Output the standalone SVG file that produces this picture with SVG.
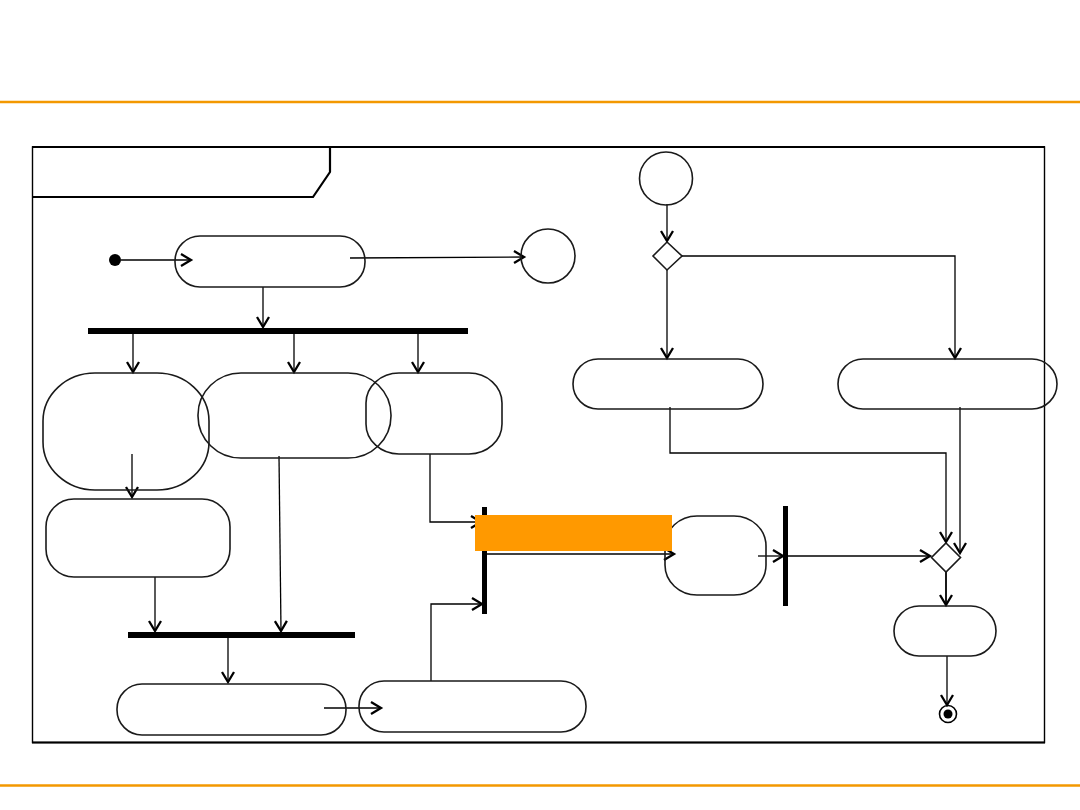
<svg xmlns="http://www.w3.org/2000/svg" width="1080" height="810" viewBox="0 0 1080 810">
<style>
.act{fill:none;stroke:#1a1a1a;stroke-width:1.6}
.bar{fill:#000}
.ln{fill:none;stroke:#000;stroke-width:1.3}
.frame{fill:none;stroke:#000;stroke-width:1.4}
.thick{fill:none;stroke:#000;stroke-width:2.2}
.rule{stroke:#F39800;stroke-width:2.5}
</style>
<defs>
<marker id="arr" markerUnits="userSpaceOnUse" markerWidth="16" markerHeight="16" viewBox="-12 -8 14 16" refX="0" refY="0" orient="auto">
<path d="M-10,-6 L0,0 L-10,6" fill="none" stroke="#000" stroke-width="2.3"/>
</marker>
</defs>
<rect width="1080" height="810" fill="#fff"/>
<line class="rule" x1="0" y1="102" x2="1080" y2="102"/>
<line class="rule" x1="0" y1="785.5" x2="1080" y2="785.5"/>
<g id="frame">
<rect class="frame" x="32.5" y="147" width="1012" height="595.5"/>
<line class="thick" x1="32" y1="147" x2="1045" y2="147"/>
<line class="thick" x1="32" y1="742.5" x2="1045" y2="742.5"/>
<path class="thick" d="M330,147 L330,172 L313,197 L33,197"/>
</g>
<g id="connectors">
<line class="ln" x1="121" y1="260" x2="191" y2="260" marker-end="url(#arr)"/>
<line class="ln" x1="350" y1="258" x2="524" y2="257" marker-end="url(#arr)"/>
<line class="ln" x1="263" y1="287" x2="263" y2="327" marker-end="url(#arr)"/>
<line class="ln" x1="133" y1="334" x2="133" y2="372" marker-end="url(#arr)"/>
<line class="ln" x1="294" y1="334" x2="294" y2="372" marker-end="url(#arr)"/>
<line class="ln" x1="418" y1="334" x2="418" y2="372" marker-end="url(#arr)"/>
<line class="ln" x1="132" y1="454" x2="132" y2="497" marker-end="url(#arr)"/>
<line class="ln" x1="155" y1="577" x2="155" y2="631" marker-end="url(#arr)"/>
<line class="ln" x1="279" y1="456" x2="281" y2="631" marker-end="url(#arr)"/>
<line class="ln" x1="228" y1="638" x2="228" y2="682" marker-end="url(#arr)"/>
<line class="ln" x1="324" y1="708" x2="381" y2="708" marker-end="url(#arr)"/>
<polyline class="ln" points="431,681 431,604 482,604" marker-end="url(#arr)"/>
<polyline class="ln" points="430,454 430,522 481,522" marker-end="url(#arr)"/>
<line class="ln" x1="487" y1="554" x2="674" y2="554" marker-end="url(#arr)"/>
<line class="ln" x1="758" y1="556" x2="783" y2="556" marker-end="url(#arr)"/>
<line class="ln" x1="788" y1="556" x2="930" y2="556" marker-end="url(#arr)"/>
<line class="ln" x1="946" y1="572" x2="946" y2="605" marker-end="url(#arr)" style="stroke-width:1.8"/>
<line class="ln" x1="947" y1="656" x2="947" y2="705" marker-end="url(#arr)"/>
<line class="ln" x1="667" y1="204" x2="667" y2="241" marker-end="url(#arr)"/>
<line class="ln" x1="667" y1="270" x2="667" y2="358" marker-end="url(#arr)"/>
<polyline class="ln" points="682,256 955,256 955,358" marker-end="url(#arr)"/>
<polyline class="ln" points="670,407 670,453 946,453 946,542" marker-end="url(#arr)"/>
<line class="ln" x1="960" y1="407" x2="960" y2="553" marker-end="url(#arr)"/>
</g>
<g id="initial"><circle cx="115" cy="260" r="6" fill="#000"/></g>
<g id="action1"><rect class="act" x="175" y="236" width="190" height="51" rx="25" ry="25"/></g>
<g id="circle1"><circle class="act" cx="548" cy="256" r="27"/></g>
<g id="fork1"><rect class="bar" x="88" y="328" width="380" height="6"/></g>
<g id="nodeA"><rect class="act" x="43" y="373" width="166" height="117" rx="52" ry="48"/></g>
<g id="nodeB"><rect class="act" x="198" y="373" width="193" height="85" rx="43" ry="42"/></g>
<g id="nodeC"><rect class="act" x="366" y="373" width="136" height="81" rx="33" ry="30"/></g>
<g id="nodeD"><rect class="act" x="46" y="499" width="184" height="78" rx="28" ry="28"/></g>
<g id="join1"><rect class="bar" x="128" y="632" width="227" height="6"/></g>
<g id="nodeE"><rect class="act" x="117" y="684" width="229" height="51" rx="25" ry="25"/></g>
<g id="nodeF"><rect class="act" x="359" y="681" width="227" height="51" rx="25" ry="25"/></g>
<g id="join2"><rect class="bar" x="482" y="507" width="5" height="107"/></g>
<g id="nodeG"><rect class="act" x="665" y="516" width="101" height="79" rx="32" ry="30"/></g>
<g id="fork2"><rect class="bar" x="783" y="506" width="5" height="100"/></g>
<g id="circle2"><circle class="act" cx="666" cy="178.5" r="26.5"/></g>
<g id="decision1"><polygon class="act" points="667,242 682,256 667,270 653,256"/></g>
<g id="nodeI"><rect class="act" x="573" y="359" width="190" height="50" rx="25" ry="25"/></g>
<g id="nodeJ"><rect class="act" x="838" y="359" width="219" height="50" rx="25" ry="25"/></g>
<g id="merge1"><polygon class="act" points="946,543 960.5,557.5 946,572 931.5,557.5"/></g>
<g id="nodeH"><rect class="act" x="894" y="606" width="102" height="50" rx="25" ry="25"/></g>
<g id="final"><circle cx="948" cy="714" r="8.5" fill="none" stroke="#000" stroke-width="1.6"/><circle cx="948" cy="714" r="4.5" fill="#000"/></g>
<g id="highlight"><rect x="475" y="515" width="197" height="36" fill="#FF9900"/></g>
</svg>
